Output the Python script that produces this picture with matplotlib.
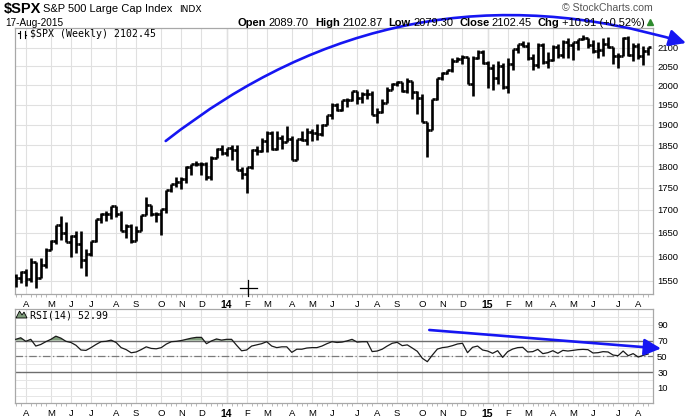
import numpy as np
import pandas as pd
import matplotlib
matplotlib.use("Agg")
import matplotlib.pyplot as plt
import matplotlib.ticker as mticker
from matplotlib.patches import FancyArrowPatch, Polygon
from matplotlib.lines import Line2D

plt.rcParams['font.family'] = ['Liberation Sans', 'DejaVu Sans']

# ---------------- data ----------------
symbol = "$SPX"
full_name = "S&P 500 Large Cap Index"
exchange = "INDX"
as_of = "17-Aug-2015"
week_start = "2013-03-18"
week_end = "2015-08-17"

opens = [1560, 1556, 1569, 1553, 1588, 1556, 1582, 1614, 1633, 1667,
         1650, 1631, 1643, 1626, 1593, 1606, 1632, 1680, 1692, 1691,
         1709, 1691, 1655, 1664, 1633, 1655, 1688, 1710, 1692, 1690,
         1703, 1745, 1759, 1762, 1771, 1798, 1805, 1806, 1805, 1775,
         1818, 1841, 1831, 1842, 1838, 1790, 1782, 1797, 1838, 1836,
         1859, 1878, 1841, 1866, 1857, 1865, 1815, 1865, 1863, 1881,
         1878, 1877, 1900, 1924, 1950, 1936, 1963, 1961, 1985, 1967,
         1978, 1978, 1925, 1931, 1955, 1988, 2003, 2008, 1985, 2011,
         1982, 1968, 1906, 1887, 1964, 2018, 2032, 2039, 2064, 2068,
         2075, 2002, 2071, 2089, 2058, 2045, 2019, 2051, 1995, 2055,
         2097, 2110, 2105, 2071, 2053, 2108, 2061, 2067, 2102, 2081,
         2117, 2108, 2116, 2123, 2126, 2107, 2092, 2094, 2110, 2101,
         2077, 2077, 2127, 2079, 2104, 2077, 2089.70]
highs = [1564, 1570, 1574, 1597, 1588, 1597, 1618, 1635, 1667, 1687,
         1674, 1646, 1654, 1654, 1615, 1632, 1680, 1693, 1698, 1709,
         1709, 1697, 1669, 1670, 1664, 1689, 1730, 1711, 1696, 1703,
         1745, 1759, 1775, 1774, 1799, 1806, 1813, 1810, 1809, 1823,
         1844, 1849, 1843, 1850, 1849, 1798, 1798, 1841, 1847, 1867,
         1884, 1883, 1883, 1875, 1897, 1872, 1865, 1884, 1891, 1889,
         1902, 1901, 1924, 1955, 1955, 1963, 1968, 1985, 1986, 1983,
         1991, 1984, 1942, 1964, 1995, 2005, 2011, 2008, 2020, 2011,
         1985, 1978, 1906, 1965, 2018, 2034, 2041, 2071, 2075, 2079,
         2076, 2077, 2094, 2093, 2064, 2056, 2064, 2058, 2072, 2097,
         2110, 2119, 2117, 2083, 2114, 2114, 2088, 2107, 2111, 2120,
         2126, 2117, 2124, 2135, 2126, 2121, 2116, 2126, 2130, 2102,
         2085, 2129, 2133, 2114, 2112, 2105, 2102.87]
lows = [1538, 1546, 1540, 1548, 1536, 1555, 1577, 1614, 1626, 1635,
        1630, 1598, 1608, 1577, 1560, 1601, 1630, 1672, 1676, 1680,
        1684, 1654, 1640, 1628, 1633, 1655, 1688, 1687, 1674, 1646,
        1693, 1740, 1752, 1747, 1761, 1780, 1800, 1779, 1767, 1768,
        1818, 1827, 1823, 1815, 1790, 1771, 1738, 1792, 1825, 1833,
        1834, 1839, 1839, 1840, 1857, 1814, 1815, 1859, 1851, 1859,
        1862, 1872, 1900, 1915, 1933, 1933, 1944, 1958, 1952, 1955,
        1965, 1925, 1905, 1928, 1955, 1987, 1998, 1983, 1979, 1965,
        1926, 1906, 1821, 1886, 1962, 2014, 2030, 2034, 2062, 2057,
        2002, 1973, 2070, 2057, 1992, 1988, 2004, 1990, 1980, 2041,
        2086, 2103, 2067, 2039, 2046, 2055, 2045, 2064, 2073, 2073,
        2073, 2067, 2093, 2122, 2099, 2085, 2072, 2078, 2098, 2056,
        2044, 2077, 2077, 2063, 2068, 2053, 2079.30]
closes = [1556, 1569, 1553, 1588, 1555, 1582, 1614, 1633, 1667, 1650,
          1631, 1643, 1626, 1593, 1606, 1632, 1680, 1692, 1691, 1709,
          1691, 1655, 1664, 1633, 1655, 1688, 1710, 1692, 1690, 1703,
          1745, 1759, 1762, 1771, 1798, 1805, 1806, 1805, 1775, 1818,
          1841, 1831, 1842, 1838, 1790, 1782, 1797, 1838, 1836, 1859,
          1878, 1841, 1866, 1857, 1865, 1815, 1865, 1863, 1881, 1878,
          1877, 1900, 1924, 1950, 1936, 1963, 1961, 1985, 1967, 1978,
          1978, 1925, 1931, 1955, 1988, 2003, 2008, 1985, 2011, 1982,
          1968, 1906, 1887, 1964, 2018, 2032, 2039, 2064, 2068, 2075,
          2002, 2071, 2089, 2058, 2045, 2019, 2051, 1995, 2055, 2097,
          2110, 2105, 2071, 2053, 2108, 2061, 2067, 2102, 2081, 2117,
          2108, 2116, 2123, 2126, 2107, 2092, 2094, 2110, 2101, 2077,
          2077, 2127, 2079, 2104, 2077, 2091.54, 2102.45]
rsi = [71.5, 73.5, 69, 71.5, 63, 65, 68.5, 71.5, 75.5, 73,
       69, 67.5, 64, 58, 57.5, 61, 65, 68.5, 69, 70.5,
       67.5, 61, 58.5, 54.5, 55.5, 58.5, 62, 60, 59.5, 61,
       65.5, 68.5, 69, 70, 71.5, 73, 74, 74, 66, 69.5,
       72, 70.5, 71.5, 71.5, 64, 57, 58, 63, 64.5, 66,
       68.5, 63, 61, 62, 62, 55, 59, 59, 60.5, 61,
       61, 63, 66, 68.5, 67.5, 68, 69.5, 71.5, 68, 68.5,
       68.5, 56, 56.7, 59, 63, 66.5, 67.7, 63.5, 64.5, 60.5,
       56.3, 47.5, 43.2, 51.6, 59.2, 61, 61.8, 63.5, 65.6, 66.5,
       54.6, 61.4, 63, 58, 56.7, 53.8, 57.1, 48.7, 55.9, 59.2,
       61, 61.4, 55.5, 55.9, 58.8, 53.4, 54.6, 57.1, 53.8, 57.5,
       56.7, 57.5, 58.4, 58.8, 58.4, 54.2, 54.6, 55.9, 55.5, 51.6,
       50.8, 56.7, 50.8, 53.4, 49.1, 51.2, 52.99]
price_ticks = [1550, 1600, 1650, 1700, 1750, 1800, 1850, 1900, 1950, 2000, 2050, 2100]
rsi_ticks = [10, 30, 50, 70, 90]
rsi_levels = [30, 50, 70]

# ---------------- figure ----------------
W, H = 693, 418
fig = plt.figure(figsize=(W / 100, H / 100), dpi=100)
fig.patch.set_facecolor('white')

def fx(px):
    return px / W

def fy(py):
    return 1 - py / H

dates = pd.date_range(week_start, week_end, freq="W-MON")
n = len(dates)
x = np.arange(n)
o = np.array(opens); h = np.array(highs); l = np.array(lows); c = np.array(closes)
r = np.array(rsi)

month_idx = [i for i in range(1, n) if dates[i].month != dates[i - 1].month]
month_lab = [dates[i].strftime('%y') if dates[i].month == 1 else dates[i].strftime('%b')[0]
             for i in month_idx]
jan_idx = [i for i in month_idx if dates[i].month == 1]

frame_col = '#a8a8a8'
grid_col = '#e0e0e0'

def style_axis(ax):
    for s in ax.spines.values():
        s.set_color(frame_col)
        s.set_linewidth(0.9)
    ax.set_xlim(-0.14, n - 0.05)
    ax.set_xticks(month_idx)
    ax.set_xticklabels(month_lab)
    ax.set_xticks(x, minor=True)
    ax.tick_params(axis='x', which='major', length=0, pad=4, labelsize=6.8)
    ax.tick_params(axis='x', which='minor', length=2, width=0.6, color='#b0b0b0')
    for t, i in zip(ax.get_xticklabels(), month_idx):
        if dates[i].month == 1:
            t.set_fontweight('bold')
            t.set_fontsize(7.5)
    ax.grid(True, axis='x', which='major', color=grid_col, lw=0.8)
    for i in jan_idx:
        ax.axvline(i, color='#c4c4c4', lw=0.9, zorder=0.5)
    ax.yaxis.tick_right()
    ax.tick_params(axis='y', which='both', length=0, pad=3, labelsize=6.8)
    ax.set_axisbelow(True)

# ---- main price panel ----
ax = fig.add_axes([fx(15), fy(294), fx(653) - fx(15), fy(28) - fy(294)])
ax.set_yscale('log')
ax.set_ylim(1523.7, 2154.6)
ax.set_yticks(price_ticks)
ax.yaxis.set_major_formatter(mticker.FixedFormatter([str(v) for v in price_ticks]))
ax.yaxis.set_minor_locator(mticker.NullLocator())
ax.grid(True, axis='y', which='major', color=grid_col, lw=0.8)
style_axis(ax)
bar_lw = 1.9
ax.vlines(x, l, h, color='black', lw=bar_lw, zorder=3)
ax.hlines(o, x - 0.5, x, color='black', lw=bar_lw, zorder=3)
ax.hlines(c, x, x + 0.5, color='black', lw=bar_lw, zorder=3)

# ---- RSI panel ----
ax2 = fig.add_axes([fx(15), fy(403), fx(653) - fx(15), fy(309) - fy(403)])
ax2.set_ylim(-9.1, 109.9)
ax2.set_yticks(rsi_ticks)
ax2.set_yticks(list(range(0, 101, 10)), minor=True)
ax2.grid(True, axis='y', which='both', color='#e6e6e6', lw=0.7)
style_axis(ax2)
ax2.axhline(rsi_levels[2], color='#6e6e6e', lw=1.0, zorder=1)
ax2.axhline(rsi_levels[0], color='#6e6e6e', lw=1.0, zorder=1)
ax2.axhline(rsi_levels[1], color='#7a7a7a', lw=0.9, ls='-.', dashes=(6, 2, 1, 2), zorder=1)
ax2.fill_between(x, r, rsi_levels[2], where=r >= rsi_levels[2], interpolate=True,
                 color='#7f9d7b', zorder=2, lw=0)
ax2.fill_between(x, r, rsi_levels[0], where=r <= rsi_levels[0], interpolate=True,
                 color='#7f9d7b', zorder=2, lw=0)
ax2.plot(x, r, color='#1a1a1a', lw=0.9, zorder=3)

# ---------------- header texts ----------------
fig.text(fx(4), fy(13), "\\" + symbol, fontsize=10.5, fontweight='bold', va='baseline')
fig.text(fx(43), fy(12.5), full_name, fontsize=8, va='baseline')
fig.text(fx(179), fy(12.5), exchange, fontsize=6.6, va='baseline', family='DejaVu Sans')
fig.text(fx(5), fy(25.5), as_of, fontsize=7.2, va='baseline')
fig.text(fx(653), fy(11), "\u00a9 StockCharts.com", fontsize=7.6, va='baseline', ha='right',
         color='#555555')

chg = c[-1] - c[-2]
pct = chg / c[-2] * 100
pieces = [("Open", 'bold', 2.5), (f"{o[-1]:.2f}", 'normal', 6),
          ("High", 'bold', 2.5), (f"{h[-1]:.2f}", 'normal', 6),
          ("Low", 'bold', 2.5), (f"{l[-1]:.2f}", 'normal', 6),
          ("Close", 'bold', 2.5), (f"{c[-1]:.2f}", 'normal', 6),
          ("Chg", 'bold', 2.5), (f"{chg:+.2f} ({pct:+.2f}%)", 'normal', 0)]
hdr_size = 8.0
renderer = fig.canvas.get_renderer()
widths = []
for s, wgt, gap in pieces:
    t = fig.text(0, 0, s, fontsize=hdr_size, fontweight=wgt)
    widths.append(t.get_window_extent(renderer).width)
    t.remove()
total = sum(widths) + sum(p[2] for p in pieces)
xp = 645 - total
for (s, wgt, gap), wd in zip(pieces, widths):
    fig.text(fx(xp), fy(25.5), s, fontsize=hdr_size, fontweight=wgt, va='baseline')
    xp += wd + gap
fig.add_artist(Line2D([fx(650)], [fy(22)], marker='^', color='#2e8b2e', markersize=4,
                      transform=fig.transFigure))

# panel labels
fig.text(fx(30), fy(37), "\\" + symbol + f" (Weekly) {c[-1]:.2f}", fontsize=7.1,
         family='DejaVu Sans Mono', va='baseline')
fig.text(fx(30), fy(318), f"RSI(14) {r[-1]:.2f}", fontsize=7.1,
         family='DejaVu Sans Mono', va='baseline')
# small OHLC icon
for bx in (19.5, 24.5):
    fig.add_artist(Line2D([fx(bx), fx(bx)], [fy(31), fy(37.5)], color='black', lw=0.8,
                          transform=fig.transFigure))
fig.add_artist(Line2D([fx(18), fx(19.5)], [fy(33), fy(33)], color='black', lw=0.8,
                      transform=fig.transFigure))
fig.add_artist(Line2D([fx(24.5), fx(26)], [fy(35), fy(35)], color='black', lw=0.8,
                      transform=fig.transFigure))
# RSI mountain icon
fig.add_artist(Polygon([(fx(16), fy(318)), (fx(19.5), fy(311)), (fx(22), fy(315)),
                        (fx(24), fy(312)), (fx(27), fy(318))], closed=True,
                       facecolor='#7f9d7b', edgecolor='black', lw=0.6,
                       transform=fig.transFigure))

# cursor cross
fig.add_artist(Line2D([fx(240), fx(257)], [fy(288), fy(288)], color='black', lw=0.9,
                      transform=fig.transFigure))
fig.add_artist(Line2D([fx(248.3), fx(248.3)], [fy(280), fy(296)], color='black', lw=0.9,
                      transform=fig.transFigure))

# ---------------- hand-drawn annotations ----------------
blue = '#1616f2'
arc = FancyArrowPatch((fx(165.7), fy(141)), (fx(686), fy(43)),
                      connectionstyle='arc3,rad=-0.26',
                      arrowstyle='-|>,head_length=0.85,head_width=0.42',
                      mutation_scale=12, color=blue, lw=1.9,
                      shrinkA=0, shrinkB=0, transform=fig.transFigure)
fig.add_artist(arc)
arr = FancyArrowPatch((fx(429.3), fy(330)), (fx(661), fy(348.5)),
                      arrowstyle='-|>,head_length=0.85,head_width=0.42',
                      mutation_scale=12, color=blue, lw=1.9,
                      shrinkA=0, shrinkB=0, transform=fig.transFigure)
fig.add_artist(arr)

fig.savefig("out.png", dpi=100)
